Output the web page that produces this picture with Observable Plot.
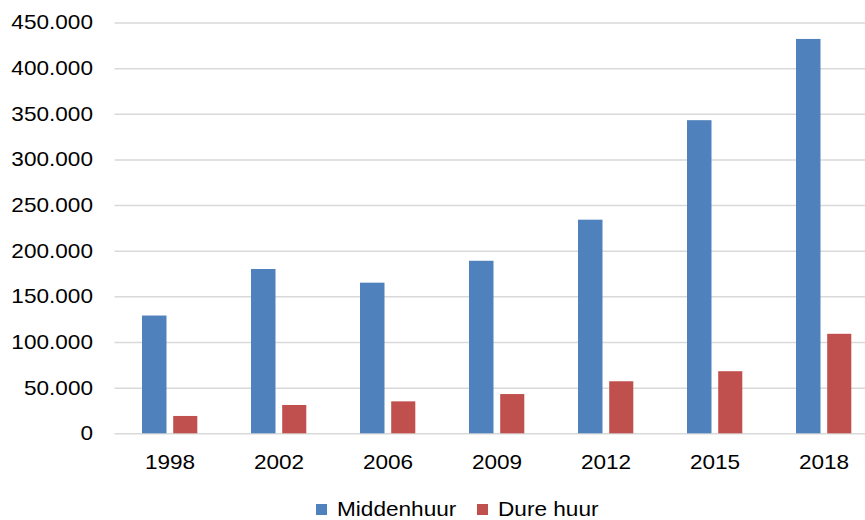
<!DOCTYPE html>
<html><head><meta charset="utf-8">
<script src="https://cdn.jsdelivr.net/npm/d3@7"></script>
<script src="https://cdn.jsdelivr.net/npm/@observablehq/plot@0.6"></script>
<style>
body{margin:0;background:#fff;overflow:hidden;width:865px;height:520px;position:relative;font-family:"Liberation Sans",Arial,sans-serif;}
#chart{position:absolute;left:0;top:0;width:878px;}
.leg{position:absolute;top:499px;height:20px;display:flex;align-items:center;font-size:20px;color:#000;white-space:nowrap;}
.sw{display:inline-block;width:11px;height:11px;margin-right:10px;}
.lt{display:inline-block;transform:scaleX(1.13);transform-origin:left center;}
</style></head>
<body>
<div id="chart"></div>
<script>
const years = ["1998","2002","2006","2009","2012","2015","2018"];
const midden = [129000,180000,165000,189000,234000,343000,432000];
const dure = [19000,31000,35000,43000,57000,68000,109000];
const seriesNames = ["Middenhuur","Dure huur"];
const seriesColors = ["#4f81bd","#c0504d"];
const yTicks = [0,50000,100000,150000,200000,250000,300000,350000,400000,450000];
const legendLeft = [316,477];

const rows = years.flatMap((y,i)=>[
  {year:y, series:seriesNames[0], value:midden[i]},
  {year:y, series:seriesNames[1], value:dure[i]}
]);
const fmt = d => d3.format(",")(d).replace(/,/g,".");

const plot = Plot.plot({
  width: 878, height: 488,
  marginTop: 22.5, marginBottom: 54.7, marginLeft: 114.5, marginRight: 0,
  style: {fontFamily:"Liberation Sans, Arial, sans-serif", fontSize:"20px", color:"#000", background:"#fff", overflow:"visible", maxWidth:"none"},
  x: {domain: years, padding: 0, label: null, tickSize: 0, tickPadding: 21},
  y: {domain:[0,450000], ticks: yTicks, tickFormat: fmt, label: null, tickSize: 0, tickPadding: 22},
  marks: [
    Plot.ruleY(yTicks, {stroke:"#d9d9d9", strokeWidth:1.5}),
    Plot.barY(rows.filter(d=>d.series===seriesNames[0]), {x:"year", y:"value", fill:seriesColors[0], insetLeft:27, insetRight:57.5}),
    Plot.barY(rows.filter(d=>d.series===seriesNames[1]), {x:"year", y:"value", fill:seriesColors[1], insetLeft:58.2, insetRight:26.7})
  ]
});
document.getElementById("chart").appendChild(plot);

// slight horizontal stretch of text (about each label's anchor) to match reference
const svg = plot.tagName.toLowerCase()==="svg" ? plot : plot.querySelector("svg");
const sx = 1.13;
svg.querySelectorAll("text").forEach(t=>{
  try {
    const r = t.getBoundingClientRect();
    const sr = svg.getBoundingClientRect();
    const anchor = getComputedStyle(t).textAnchor;
    const ax = (anchor==="end" ? r.right : anchor==="start" ? r.left : (r.left+r.right)/2) - sr.left;
    const ay = (r.top+r.bottom)/2 - sr.top;
    const P = t.parentNode.getCTM();
    const cons = t.transform.baseVal.consolidate();
    const L = cons ? cons.matrix : svg.createSVGMatrix();
    const A = svg.createSVGMatrix().translate(ax,ay).scaleNonUniform(sx,1).translate(-ax,-ay);
    const N = P.inverse().multiply(A).multiply(P).multiply(L);
    t.transform.baseVal.initialize(svg.createSVGTransformFromMatrix(N));
  } catch(e) {}
});

seriesNames.forEach((name,i)=>{
  const d = document.createElement("div");
  d.className = "leg";
  d.style.left = legendLeft[i]+"px";
  d.innerHTML = `<span class="sw" style="background:${seriesColors[i]}"></span><span class="lt">${name}</span>`;
  document.body.appendChild(d);
});
</script>
</body></html>
